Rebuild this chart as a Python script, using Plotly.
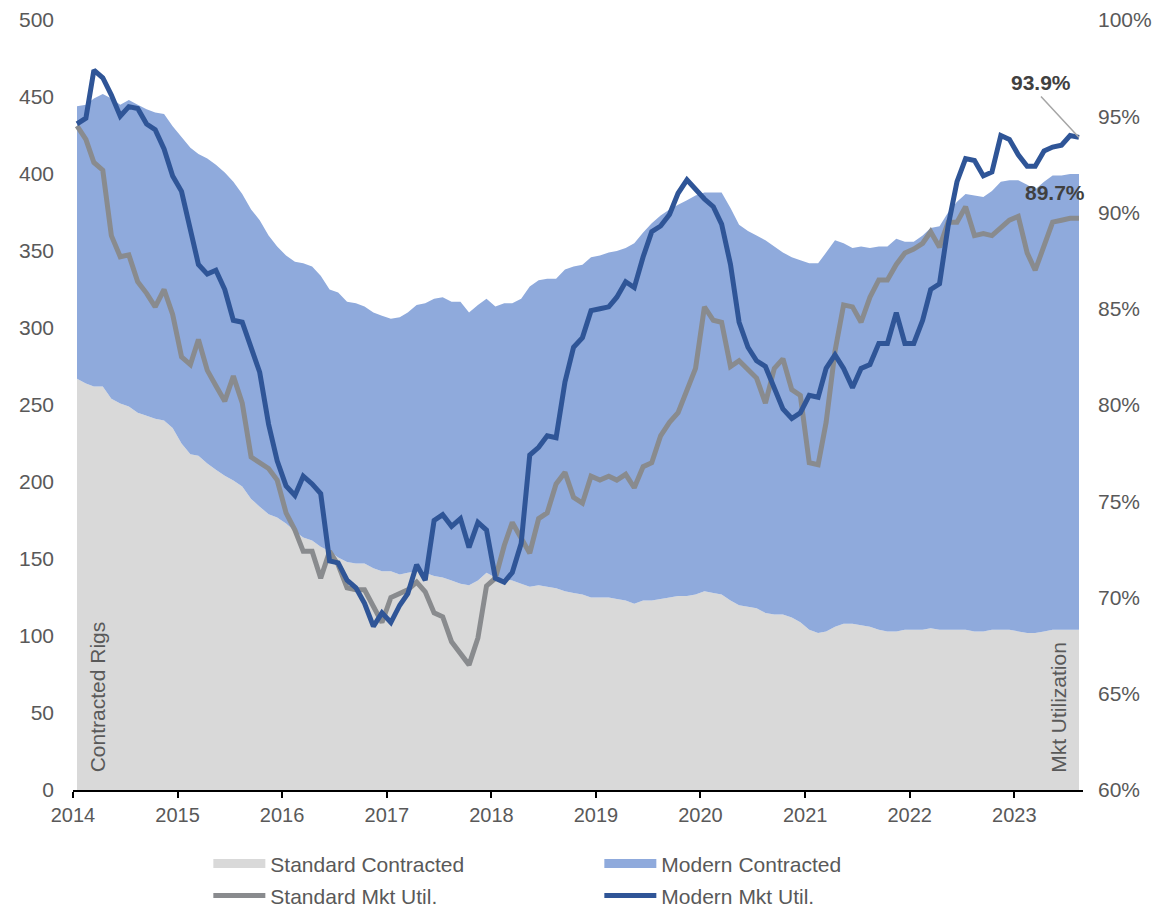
import pandas as pd
import plotly.graph_objects as go

# Monthly observations, Jan 2014 .. Aug 2023 (plotted mid-month)
months = pd.date_range(start="2014-01-01", periods=116, freq="MS") + pd.Timedelta(days=14)

standard_contracted = [
    267, 264, 262, 262, 254, 251, 249, 245, 243, 241, 240, 235,
    225, 218, 217, 212, 208, 204, 201, 197, 189, 184, 179, 177,
    173, 168, 164, 162, 158, 155, 151, 148, 147, 147, 144, 142,
    142, 140, 141, 142, 141, 139, 138, 136, 134, 133, 136, 141,
    138, 137, 136, 134, 132, 133, 132, 131, 129, 128, 127, 125,
    125, 125, 124, 123, 121, 123, 123, 124, 125, 126, 126, 127,
    129, 128, 127, 123, 120, 119, 118, 115, 114, 114, 112, 109,
    104, 102, 103, 106, 108, 108, 107, 106, 104, 103, 103, 104,
    104, 104, 105, 104, 104, 104, 104, 103, 103, 104, 104, 104,
    103, 102, 102, 103, 104, 104, 104, 104,
]

modern_contracted = [
    177, 181, 187, 190, 195, 194, 199, 200, 199, 199, 199, 196,
    199, 199, 196, 198, 198, 197, 194, 190, 188, 186, 181, 176,
    174, 175, 178, 178, 176, 170, 172, 169, 169, 167, 166, 166,
    164, 167, 169, 173, 175, 180, 182, 181, 183, 177, 179, 178,
    176, 179, 180, 185, 195, 198, 200, 201, 209, 212, 214, 221,
    222, 224, 226, 229, 234, 239, 245, 249, 252, 254, 257, 259,
    259, 260, 261, 255, 247, 244, 242, 242, 239, 235, 234, 235,
    238, 240, 246, 251, 247, 244, 246, 246, 249, 250, 255, 252,
    252, 256, 260, 262, 271, 278, 283, 283, 282, 285, 291, 292,
    293, 291, 288, 292, 295, 295, 296, 296,
]

standard_util = [
    94.5, 93.8, 92.6, 92.2, 88.8, 87.7, 87.8, 86.4, 85.8, 85.1, 86.0, 84.7,
    82.5, 82.1, 83.4, 81.8, 81.0, 80.2, 81.5, 80.1, 77.3, 77.0, 76.7, 76.1,
    74.4, 73.5, 72.4, 72.4, 71.0, 72.4, 71.7, 70.5, 70.4, 70.4, 69.5, 68.7,
    70.0, 70.2, 70.4, 70.8, 70.3, 69.2, 69.0, 67.7, 67.1, 66.5, 67.9, 70.6,
    71.0, 72.7, 73.9, 73.1, 72.3, 74.1, 74.4, 75.9, 76.5, 75.2, 74.9, 76.3,
    76.1, 76.3, 76.1, 76.4, 75.7, 76.8, 77.0, 78.4, 79.1, 79.6, 80.7, 81.9,
    85.1, 84.4, 84.3, 82.0, 82.3, 81.8, 81.4, 80.1, 81.9, 82.4, 80.8, 80.5,
    77.0, 76.9, 79.1, 82.8, 85.2, 85.1, 84.3, 85.6, 86.5, 86.5, 87.3, 87.9,
    88.1, 88.4, 89.0, 88.2, 89.5, 89.5, 90.3, 88.8, 88.9, 88.8, 89.2, 89.6,
    89.8, 87.9, 87.0, 88.2, 89.5, 89.6, 89.7, 89.7,
]

modern_util = [
    94.6, 94.9, 97.4, 97.0, 96.1, 95.0, 95.5, 95.4, 94.6, 94.3, 93.3, 91.9,
    91.1, 89.2, 87.3, 86.8, 87.0, 86.0, 84.4, 84.3, 82.9, 81.7, 79.0, 77.1,
    75.8, 75.3, 76.3, 75.9, 75.4, 71.9, 71.8, 70.9, 70.5, 69.7, 68.5, 69.2,
    68.7, 69.6, 70.2, 71.7, 70.9, 74.0, 74.3, 73.7, 74.1, 72.6, 73.9, 73.5,
    71.0, 70.8, 71.3, 72.8, 77.4, 77.8, 78.4, 78.3, 81.2, 83.0, 83.5, 84.9,
    85.0, 85.1, 85.6, 86.4, 86.1, 87.7, 89.0, 89.3, 89.9, 91.0, 91.7, 91.2,
    90.7, 90.3, 89.4, 87.3, 84.3, 83.0, 82.3, 82.0, 80.8, 79.8, 79.3, 79.6,
    80.5, 80.4, 81.9, 82.6, 81.9, 80.9, 81.9, 82.1, 83.2, 83.2, 84.8, 83.2,
    83.2, 84.4, 86.0, 86.3, 89.3, 91.6, 92.8, 92.7, 91.9, 92.1, 94.0, 93.8,
    93.0, 92.4, 92.4, 93.2, 93.4, 93.5, 94.0, 93.9,
]

left_ticks = list(range(0, 501, 50))
right_ticks = list(range(60, 101, 5))

FONT = "Liberation Sans, Arial, sans-serif"
FS = 21
TXT = "#595959"
C_STD_AREA = "#D9D9D9"
C_MOD_AREA = "#8FAADC"
C_STD_LINE = "#898B8E"
C_MOD_LINE = "#2F5597"

fig = go.Figure()
# stacked areas (legend entries provided by the swatch entries below)
fig.add_trace(go.Scatter(
    x=months, y=standard_contracted, name="Standard Contracted",
    stackgroup="rigs", mode="none", fillcolor=C_STD_AREA,
    line=dict(width=0), showlegend=False, legendgroup="std_area",
))
fig.add_trace(go.Scatter(
    x=months, y=modern_contracted, name="Modern Contracted",
    stackgroup="rigs", mode="none", fillcolor=C_MOD_AREA,
    line=dict(width=0), showlegend=False, legendgroup="mod_area",
))
# legend swatches for the areas (no data drawn)
fig.add_trace(go.Scatter(
    x=[None], y=[None], name="Standard Contracted", mode="lines",
    line=dict(color=C_STD_AREA, width=9), legend="legend",
    legendgroup="std_area", hoverinfo="skip",
))
fig.add_trace(go.Scatter(
    x=[None], y=[None], name="Modern Contracted", mode="lines",
    line=dict(color=C_MOD_AREA, width=9), legend="legend",
    legendgroup="mod_area", hoverinfo="skip",
))
fig.add_trace(go.Scatter(
    x=months, y=standard_util, name="Standard Mkt Util.", yaxis="y2",
    mode="lines", line=dict(color=C_STD_LINE, width=5), legend="legend2",
))
fig.add_trace(go.Scatter(
    x=months, y=modern_util, name="Modern Mkt Util.", yaxis="y2",
    mode="lines", line=dict(color=C_MOD_LINE, width=5), legend="legend2",
))

last_x = months[-1]
fig.add_annotation(
    x=last_x, y=modern_util[-1], yref="y2", text="<b>93.9%</b>",
    showarrow=True, arrowhead=0, arrowwidth=1.5, arrowcolor="#A6A6A6",
    ax=-38, ay=-41, xanchor="center", yanchor="bottom",
    font=dict(family=FONT, size=FS, color="#404040"),
)
fig.add_annotation(
    x=last_x, y=standard_util[-1], yref="y2", text="<b>89.7%</b>",
    showarrow=False, xshift=-24, yshift=26,
    font=dict(family=FONT, size=FS, color="#404040"),
)
fig.add_annotation(
    x=0.024, y=0.02, xref="paper", yref="paper", text="Contracted Rigs",
    textangle=-90, showarrow=False, xanchor="center", yanchor="bottom",
    font=dict(family=FONT, size=FS, color=TXT),
)
fig.add_annotation(
    x=0.975, y=0.02, xref="paper", yref="paper", text="Mkt Utilization",
    textangle=-90, showarrow=False, xanchor="center", yanchor="bottom",
    font=dict(family=FONT, size=FS, color=TXT),
)

legend_common = dict(
    orientation="h", xanchor="left", yanchor="middle",
    entrywidth=324, entrywidthmode="pixels", itemwidth=52,
    font=dict(family=FONT, size=FS, color=TXT),
    bgcolor="rgba(0,0,0,0)", traceorder="normal",
)

# the page adds an 8px body margin, so the figure margins are offset by 8px
fig.update_layout(
    width=1160, height=907,
    margin=dict(l=65, r=85, t=12, b=125, autoexpand=False),
    paper_bgcolor="white", plot_bgcolor="white",
    font=dict(family=FONT, size=FS, color=TXT),
    showlegend=True,
    legend=dict(x=0.134, y=-0.096, **legend_common),
    legend2=dict(x=0.134, y=-0.1375, **legend_common),
    xaxis=dict(
        type="date", range=["2014-01-01", "2023-08-29"], automargin=False,
        tick0="2014-01-01", dtick="M12", tickformat="%Y",
        showgrid=False, zeroline=False,
        showline=True, linecolor="#000000", linewidth=1.5,
        ticks="outside", ticklen=6, tickcolor="#000000", tickwidth=1.5,
        tickfont=dict(family=FONT, size=FS - 1, color=TXT),
    ),
    yaxis=dict(
        range=[0, 500], tickvals=left_ticks, showgrid=False, zeroline=False,
        showline=False, ticks="", ticklabelstandoff=18, automargin=False,
        tickfont=dict(family=FONT, size=FS, color=TXT),
    ),
    yaxis2=dict(
        range=[60, 100], tickvals=right_ticks,
        ticktext=[f"{v}%" for v in right_ticks],
        overlaying="y", side="right", showgrid=False, zeroline=False,
        showline=False, ticks="", ticklabelstandoff=14, automargin=False,
        tickfont=dict(family=FONT, size=FS, color=TXT),
    ),
)

fig.write_html("out.html")
